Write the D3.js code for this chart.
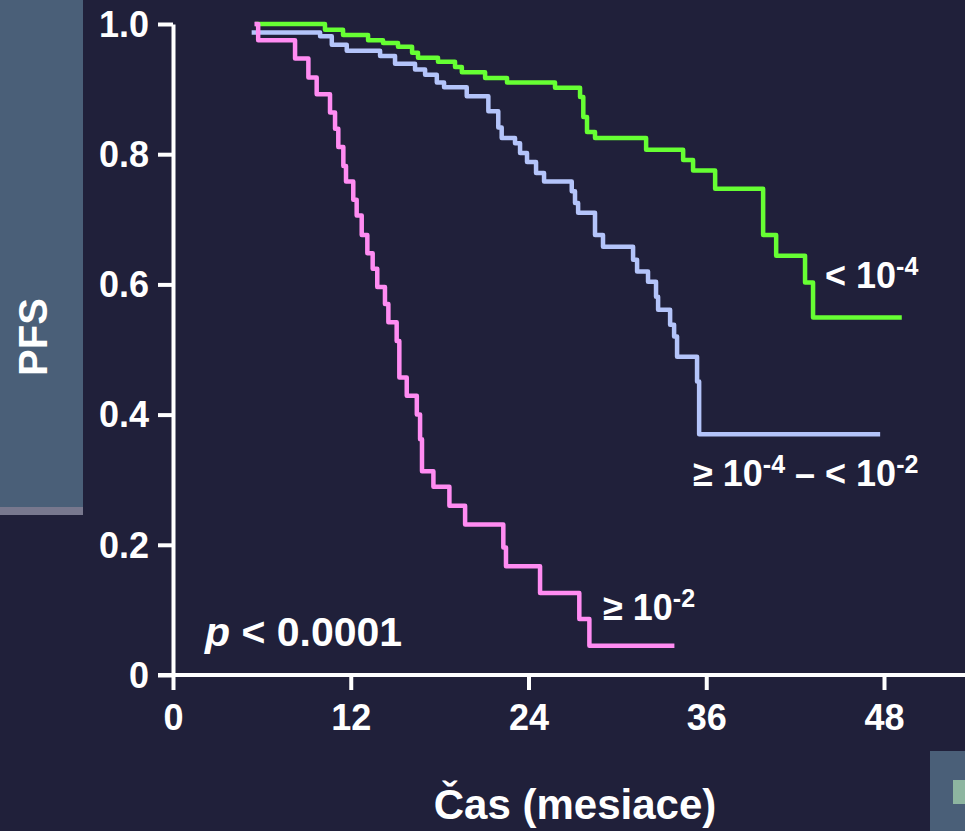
<!DOCTYPE html>
<html>
<head>
<meta charset="utf-8">
<script src="https://cdn.jsdelivr.net/npm/d3@7"></script>
<style>
  html, body { margin: 0; padding: 0; background: #20203a; }
  svg { display: block; }
  text { font-family: "Liberation Sans", Arial, sans-serif; font-weight: bold; fill: #ffffff; }
</style>
</head>
<body>
<script>
// ---- data (months, PFS) ----
const xTicks = [0, 12, 24, 36, 48];
const yTicks = [0, 0.2, 0.4, 0.6, 0.8, 1.0];

const lowTimes = [5.54, 10.26, 11.48, 13.17, 14.18, 15.19, 16.14, 16.54, 17.89, 19.04, 19.5, 21.07, 22.55, 25.79, 27.48, 27.7, 27.95, 28.49, 31.94, 34.44, 35.11, 36.6, 39.84, 40.72, 42.67, 43.21, 49.2];
const lowSurv  = [1.0, 0.991, 0.983, 0.975, 0.971, 0.965, 0.956, 0.948, 0.942, 0.934, 0.926, 0.917, 0.910, 0.902, 0.888, 0.857, 0.834, 0.825, 0.807, 0.791, 0.775, 0.747, 0.676, 0.644, 0.603, 0.549, 0.549];

const midTimes = [5.31, 9.93, 10.72, 11.73, 13.98, 14.99, 16.34, 17.02, 17.81, 18.30, 19.83, 21.29, 21.96, 22.19, 23.09, 23.43, 23.90, 24.51, 25.05, 26.92, 27.14, 27.35, 28.49, 29.03, 31.06, 31.33, 32.07, 32.61, 32.75, 33.56, 33.83, 34.03, 35.38, 35.52, 47.74];
const midSurv  = [0.987, 0.981, 0.968, 0.959, 0.951, 0.939, 0.930, 0.922, 0.910, 0.903, 0.889, 0.866, 0.841, 0.825, 0.817, 0.802, 0.788, 0.771, 0.758, 0.743, 0.725, 0.710, 0.676, 0.658, 0.638, 0.620, 0.604, 0.581, 0.561, 0.538, 0.520, 0.489, 0.451, 0.370, 0.370];

const highTimes = [5.5, 5.75, 8.24, 9.14, 9.70, 10.60, 10.94, 11.16, 11.50, 11.68, 12.17, 12.40, 12.74, 13.12, 13.48, 13.79, 14.31, 14.54, 15.10, 15.28, 15.78, 16.46, 16.68, 16.81, 17.58, 18.66, 19.72, 22.30, 22.48, 24.78, 27.43, 28.11, 33.85];
const highSurv  = [1.0, 0.975, 0.947, 0.918, 0.892, 0.864, 0.839, 0.811, 0.782, 0.758, 0.730, 0.706, 0.676, 0.648, 0.624, 0.596, 0.570, 0.542, 0.513, 0.457, 0.429, 0.400, 0.362, 0.313, 0.289, 0.260, 0.231, 0.196, 0.167, 0.126, 0.086, 0.045, 0.045];

const seriesNames = ["< 10-4", "≥ 10-4 – < 10-2", "≥ 10-2"];
const seriesColors = ["#66ff33", "#b4c4fa", "#ff8cf2"];

// ---- chart ----
const W = 965, H = 831;
const svg = d3.select("body").append("svg").attr("width", W).attr("height", H);
svg.append("rect").attr("width", W).attr("height", H).attr("fill", "#20203a");

// decorative panels
svg.append("rect").attr("x", 0).attr("y", 0).attr("width", 83).attr("height", 507).attr("fill", "#4a5f78");
svg.append("rect").attr("x", 0).attr("y", 507).attr("width", 83).attr("height", 8).attr("fill", "#78788e");
svg.append("rect").attr("x", 930).attr("y", 751).attr("width", 35).attr("height", 80).attr("fill", "#4a5f78");
svg.append("rect").attr("x", 953).attr("y", 780).attr("width", 12).attr("height", 24).attr("fill", "#8db5a0");

const x = d3.scaleLinear().domain([0, 48]).range([173, 884]);
const y = d3.scaleLinear().domain([0, 1]).range([675, 24]);

// y axis
const gy = svg.append("g").attr("transform", "translate(173,0)")
  .call(d3.axisLeft(y).tickValues(yTicks).tickSize(15).tickSizeOuter(0)
    .tickFormat(d => d === 0 ? "0" : d.toFixed(1)));
gy.select(".domain").attr("stroke", "#fff").attr("stroke-width", 4);
gy.selectAll(".tick line").attr("stroke", "#fff").attr("stroke-width", 4);
gy.selectAll(".tick text").attr("x", -24).attr("dy", "0.34em")
  .style("font-size", "36px").attr("fill", "#fff");

// x axis
const gx = svg.append("g").attr("transform", "translate(0,675)")
  .call(d3.axisBottom(x).tickValues(xTicks).tickSize(15).tickSizeOuter(0).tickFormat(d3.format("d")));
gx.select(".domain").remove();
gx.selectAll(".tick line").attr("stroke", "#fff").attr("stroke-width", 4);
gx.selectAll(".tick text").attr("y", 55).attr("dy", 0)
  .style("font-size", "36px").attr("fill", "#fff");
svg.append("line").attr("x1", 158).attr("x2", 965).attr("y1", 675).attr("y2", 675)
  .attr("stroke", "#fff").attr("stroke-width", 4);

// curves
const line = d3.line().x(d => x(d[0])).y(d => y(d[1])).curve(d3.curveStepAfter);
const series = [
  d3.zip(lowTimes, lowSurv),
  d3.zip(midTimes, midSurv),
  d3.zip(highTimes, highSurv)
];
series.forEach((pts, i) => {
  svg.append("path").attr("d", line(pts)).attr("fill", "none")
    .attr("stroke", seriesColors[i]).attr("stroke-width", 4.5)
    .attr("stroke-linejoin", "round");
});

// series labels with superscripts
function supLabel(xp, yp, parts) {
  const t = svg.append("text").attr("x", xp).attr("y", yp).style("font-size", "36px");
  parts.forEach(p => {
    if (p.sup) {
      t.append("tspan").attr("dy", -13).style("font-size", "25px").text(p.sup);
    } else {
      t.append("tspan").attr("dy", p.back ? 13 : 0).text(p.txt);
    }
  });
}
supLabel(825, 288, [{txt: "< 10"}, {sup: "-4"}]);
supLabel(693, 486, [{txt: "≥ 10"}, {sup: "-4"}, {txt: " – < 10", back: true}, {sup: "-2"}]);
supLabel(603, 620, [{txt: "≥ 10"}, {sup: "-2"}]);

// p value
const pt = svg.append("text").attr("x", 205).attr("y", 646).style("font-size", "41px");
pt.append("tspan").style("font-style", "italic").text("p");
pt.append("tspan").text(" < 0.0001");

// axis titles
svg.append("text").attr("x", 575).attr("y", 819).attr("text-anchor", "middle")
  .style("font-size", "42px").text("Čas (mesiace)");
svg.append("text").attr("transform", "translate(47,337) rotate(-90)").attr("text-anchor", "middle")
  .style("font-size", "40px").text("PFS");
</script>
</body>
</html>
